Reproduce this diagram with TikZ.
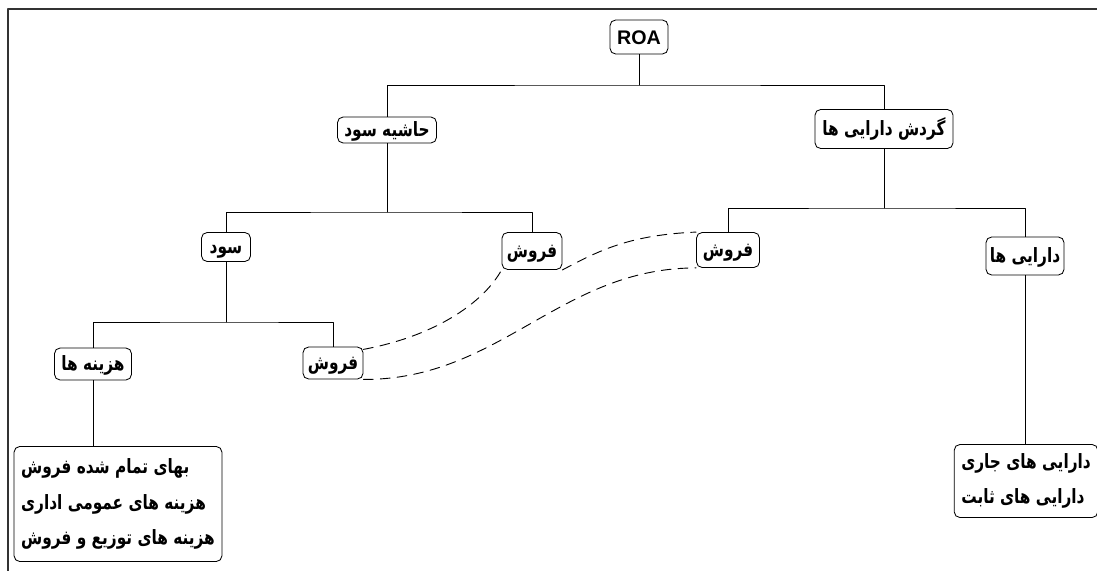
\documentclass[tikz,border=0pt]{standalone}
\usepackage{fontspec}
\setmainfont{Liberation Sans}
\newfontfamily\farsi[Script=Arabic, FakeStretch=0.78]{DejaVu Sans}
\TeXXeTstate=1
\newcommand{\fatext}[1]{\beginR #1\endR}
\usetikzlibrary{calc, positioning}

\begin{document}
\begin{tikzpicture}[line cap=round, line join=round, x=0.025cm, y=-0.025cm,
  every node/.style={font={\farsi\bfseries\fontsize{14}{25}\selectfont}},
  box/.style={draw, line width=0.6pt, rounded corners=4pt, inner sep=2pt},
  single/.style={box, text height=9pt, text depth=0pt},
  listbox/.style={box, align=left, inner sep=5pt},
  tree/.style={line width=0.6pt},
  link/.style={line width=0.65pt, dash pattern=on 7pt off 5pt}]
\useasboundingbox (0,0) rectangle (1097,571);

% Frame
\draw [line width=1.5pt, black!80, line cap=butt] (8,571) -- (8,9) -- (1097,9);

% Boxes
\node [single, minimum width=1.45cm, minimum height=0.85cm, text height=10pt, font={\rmfamily\bfseries\fontsize{14}{16}\selectfont}] (roa) at (639,37) {ROA};
\node [single, minimum width=2.475cm, minimum height=0.65cm] (hashie) at (387,130) {\fatext{حاشیه سود}};
\node [single, minimum width=3.45cm, minimum height=0.975cm] (gardesh) at (884,129) {\fatext{گردش دارایی ها}};
\node [single, minimum width=1.225cm, minimum height=0.725cm] (sood) at (226,247) {\fatext{سود}};
\node [single, minimum width=1.5cm, minimum height=0.925cm] (forosh1) at (532,251) {\fatext{فروش}};
\node [single, minimum width=1.575cm, minimum height=0.875cm] (forosh2) at (728,250) {\fatext{فروش}};
\node [single, minimum width=1.95cm, minimum height=0.95cm] (daraei) at (1025,256) {\fatext{دارایی ها}};
\node [single, minimum width=1.925cm, minimum height=0.8cm] (hazine) at (93,364) {\fatext{هزینه ها}};
\node [single, minimum width=1.5cm, minimum height=0.8cm] (forosh3) at (333,363) {\fatext{فروش}};
\node [listbox, minimum width=5.1cm, minimum height=2.875cm] (hazinelist) at (118,504) {\fatext{بهای تمام شده فروش}\\ \fatext{هزینه های عمومی اداری}\\ \fatext{هزینه های توزیع و فروش}};
\node [listbox, minimum width=3.45cm, minimum height=1.825cm] (daraeilist) at (1026,481) {\fatext{دارایی های جاری}\\ \fatext{دارایی های ثابت}};

% Tree lines
\coordinate (bar1) at (639,85);
\coordinate (bar2) at (393,212);
\coordinate (bar3) at (887,208);
\coordinate (bar4) at (225,322);
\draw [tree] (roa.south) -- (roa.south |- bar1);
\draw [tree] (hashie.north) |- (bar1) -| (gardesh.north);
\draw [tree] (hashie.south) -- (hashie.south |- bar2);
\draw [tree] (sood.north) |- (bar2) -| (forosh1.north);
\draw [tree] (gardesh.south) -- (gardesh.south |- bar3);
\draw [tree] (forosh2.north) |- (bar3) -| (daraei.north);
\draw [tree] (sood.south) -- (sood.south |- bar4);
\draw [tree] (hazine.north) |- (bar4) -| (forosh3.north);
\draw [tree] (hazine.south) -- (hazine.south |- hazinelist.north);
\draw [tree] (daraei.south) -- (daraei.south |- daraeilist.north);

% Dashed links between the sales boxes
\draw [link] ([yshift=-2pt]forosh3.north east) .. controls (440,335) and (485,300) .. (forosh1.south west);
\draw [link] (forosh1.south east) .. controls (600,250) and (630,235) .. (forosh2.north west);
\draw [link] (forosh3.south east) .. controls (500,380) and (560,268) .. (forosh2.south west);
\end{tikzpicture}
\end{document}
